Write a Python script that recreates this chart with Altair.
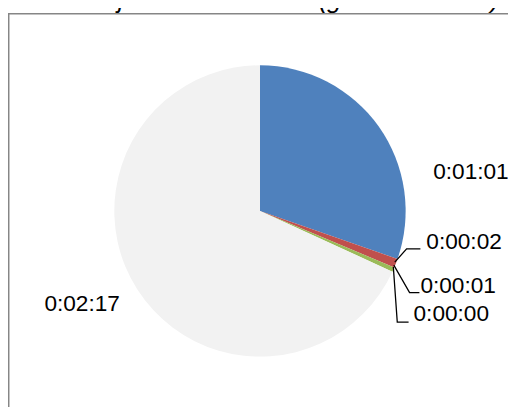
import altair as alt
import pandas as pd

# ---- data ----
categories = ["Deel 1", "Deel 2", "Deel 3", "Deel 4", "Deel 5"]
seconds = [61, 2, 1, 0, 137]
colors = ["#4F81BD", "#C0504D", "#9BBB59", "#8064A2", "#F2F2F2"]
title_text = "Klas 3 - jas en boekentas  (gem. 00:03:22)"


def hms(s):
    return f"{s // 3600}:{(s % 3600) // 60:02d}:{s % 60:02d}"


df = pd.DataFrame({
    "cat": categories,
    "sec": seconds,
    "ord": list(range(len(categories))),
    "label": [hms(s) for s in seconds],
})

# ---- layout (pixel positions of labels / leader lines inside the view) ----
label_pos = {
    "Deel 1": (432, 162),
    "Deel 2": (425, 233),
    "Deel 3": (419, 277),
    "Deel 4": (412, 306),
    "Deel 5": (37, 296),
}
lab = df.copy()
lab["lx"] = [label_pos[c][0] for c in lab["cat"]]
lab["ly"] = [label_pos[c][1] for c in lab["cat"]]

leaders = pd.DataFrame({
    "g": ["a"] * 3 + ["b"] * 3 + ["c"] * 3,
    "i": [0, 1, 2] * 3,
    "px": [393, 405, 419, 392, 408, 418, 391.5, 395.5, 407],
    "py": [253, 239.5, 239.5, 256, 284, 284, 258, 314, 314],
})

CX, CY, R = 256, 201, 148

pie = alt.Chart(df).mark_arc(outerRadius=R).encode(
    theta=alt.Theta("sec:Q", stack=True),
    color=alt.Color("cat:N", scale=alt.Scale(domain=categories, range=colors), legend=None),
    order=alt.Order("ord:Q"),
    x=alt.value(CX),
    y=alt.value(CY),
)

labels = alt.Chart(lab).mark_text(
    font="Liberation Sans", fontSize=23, align="left", baseline="middle", color="#000000"
).encode(
    x=alt.X("lx:Q", scale=None),
    y=alt.Y("ly:Q", scale=None),
    text="label:N",
)

lines = alt.Chart(leaders).mark_line(color="#000000", strokeWidth=1.3).encode(
    x=alt.X("px:Q", scale=None),
    y=alt.Y("py:Q", scale=None),
    detail="g:N",
    order="i:Q",
)

border = alt.Chart(pd.DataFrame({"a": [0]})).mark_rect(
    fillOpacity=0, stroke="#868686", strokeWidth=1.5
).encode(
    x=alt.value(0.75), y=alt.value(0.75), x2=alt.value(800), y2=alt.value(800)
)

title = alt.Chart(pd.DataFrame({"t": [title_text]})).mark_text(
    font="Liberation Sans", fontSize=26, fontStyle="italic", align="center",
    baseline="alphabetic", color="#000000"
).encode(
    x=alt.value(258), y=alt.value(-5.5), text="t:N"
)

chart = alt.layer(border, pie, lines, labels, title).properties(
    width=508, height=397,
    autosize=alt.AutoSizeParams(type="none"),
    padding={"left": 0, "top": 2, "right": 0, "bottom": 0},
).configure_view(stroke=None)

chart.save("out.html", embed_options={"renderer": "svg", "actions": False})
